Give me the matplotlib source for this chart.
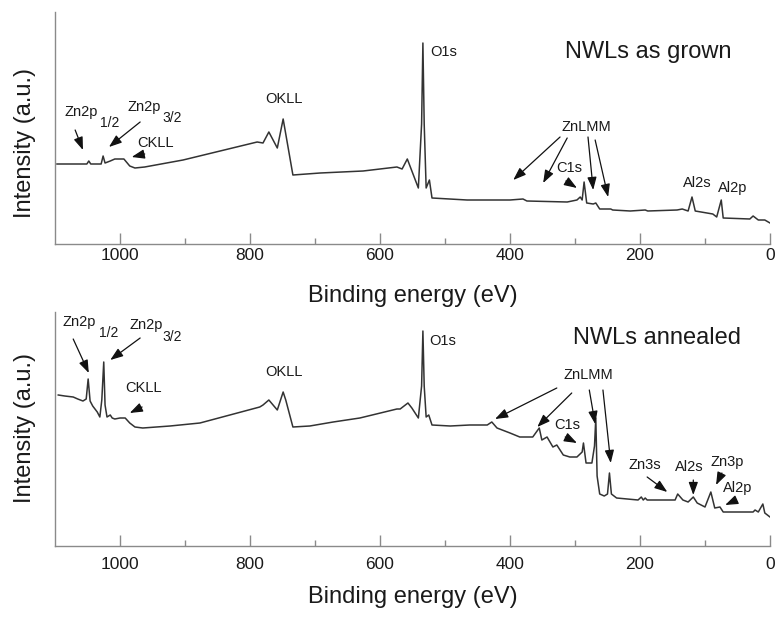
"""XPS survey spectra of the NWLs, as grown (top) and annealed (bottom)."""

import matplotlib

matplotlib.use("Agg")
import matplotlib.pyplot as plt
from matplotlib.ticker import FixedLocator

# binding energy (eV) / intensity (a.u.)
GROWN_EV = [1097, 1051, 1048, 1045, 1029, 1026, 1023, 1015, 1008, 994, 985, 977,
            962, 903, 846, 789, 780, 771, 758, 749, 734, 692, 626, 574, 566, 558,
            541, 536, 534, 532, 529, 524, 520, 466, 400, 380, 374, 312, 297, 292,
            289, 286, 282, 272, 268, 262, 245, 242, 215, 192, 188, 143, 135, 126,
            120, 115, 88, 82, 75, 72, 31, 26, 18, 8, 0]
GROWN_I = [80, 80, 83, 80, 80, 88, 81, 83, 85, 85, 78, 76,
           77, 84, 93, 102, 101, 112, 96, 125, 69, 71, 73, 77, 75, 85,
           56, 120, 201, 120, 56, 64, 46, 44, 44, 45, 43, 42, 44, 47,
           44, 62, 41, 40, 41, 35, 35, 34, 33, 34, 33, 34, 35, 33,
           47, 33, 30, 27, 44, 26, 25, 28, 24, 24, 21]

ANNEALED_EV = [1095, 1085, 1072, 1065, 1057, 1052, 1049, 1046, 1042, 1035, 1031,
               1028, 1025, 1023, 1020, 1015, 1012, 1008, 1000, 992, 985, 977, 965,
               923, 877, 831, 785, 780, 771, 758, 749, 745, 734, 708, 672, 631,
               574, 569, 557, 551, 541, 536, 534, 532, 529, 525, 520, 492, 462,
               435, 428, 420, 408, 400, 385, 365, 355, 351, 343, 334, 328, 318,
               308, 297, 289, 287, 283, 274, 270, 268, 266, 262, 255, 250, 247,
               244, 236, 203, 198, 195, 192, 189, 146, 142, 134, 126, 118, 112,
               100, 91, 85, 77, 72, 26, 23, 18, 11, 8, 0]
ANNEALED_I = [151, 150, 149, 147, 145, 147, 167, 145, 140, 134, 129,
              146, 184, 141, 129, 131, 128, 127, 128, 128, 123, 119, 118,
              120, 123, 131, 139, 141, 146, 136, 154, 146, 119, 120, 124, 128,
              137, 137, 143, 138, 128, 160, 215, 160, 129, 131, 121, 120, 121,
              121, 124, 118, 115, 113, 109, 109, 118, 106, 109, 99, 101, 91,
              89, 89, 94, 103, 83, 83, 100, 128, 70, 52, 50, 52, 73,
              52, 48, 46, 49, 46, 48, 46, 46, 52, 46, 44, 49, 43,
              39, 54, 38, 39, 34, 34, 36, 34, 42, 33, 29]

# peak labels: (text, energy, intensity, fontsize)
GROWN_LABELS = [("Zn2p", 1086, 132, 10.5), ("1/2", 1031, 121, 10),
                ("Zn2p", 989, 137, 10.5), ("3/2", 935, 126, 10),
                ("CKLL", 974, 101, 10.5), ("OKLL", 777, 145, 10.5),
                ("O1s", 522, 192, 10.5), ("ZnLMM", 320, 117, 10.5),
                ("C1s", 329, 76, 10.5), ("Al2s", 134, 61, 10.5),
                ("Al2p", 80, 56, 10.5)]
GROWN_ARROWS = [((1069, 114), (1057, 94)), ((969, 122), (1017, 97)),
                ((962, 90), (982, 87)), ((323, 107), (395, 64)),
                ((312, 106), (349, 61)), ((280, 107), (272, 54)),
                ((269, 104), (249, 47)), ((314, 63), (297, 56))]

ANNEALED_LABELS = [("Zn2p", 1088, 224, 10.5), ("1/2", 1032, 213, 10),
                   ("Zn2p", 985, 221, 10.5), ("3/2", 934, 209, 10),
                   ("CKLL", 992, 158, 10.5), ("OKLL", 777, 174, 10.5),
                   ("O1s", 525, 205, 10.5), ("ZnLMM", 318, 171, 10.5),
                   ("C1s", 332, 121, 10.5), ("Zn3s", 218, 81, 10.5),
                   ("Al2s", 146, 79, 10.5), ("Zn3p", 91, 84, 10.5),
                   ("Al2p", 72, 58, 10.5)]
ANNEALED_ARROWS = [((1072, 207), (1048, 173)), ((969, 208), (1015, 186)),
                   ((966, 139), (985, 133)), ((328, 158), (423, 127)),
                   ((305, 153), (358, 119)), ((278, 156), (269, 122)),
                   ((257, 156), (245, 83)), ((315, 109), (297, 103)),
                   ((189, 69), (158, 54)), ((118, 66), (118, 51)),
                   ((74, 73), (83, 61)), ((52, 46), (69, 41))]

INK = "#1a1a1a"
plt.rcParams.update({"font.family": ["Liberation Sans", "DejaVu Sans"]})


def panel(ax, ev, inten, ymax, title, title_y, labels, arrows, tickpad):
    ax.plot(ev, inten, color="#333333", lw=1.1)
    ax.set_xlim(1100, 0)
    ax.set_ylim(0, ymax)
    for s in ("top", "right"):
        ax.spines[s].set_visible(False)
    for s in ("left", "bottom"):
        ax.spines[s].set_color("#8a8a8a")
        ax.spines[s].set_linewidth(1.0)
    ax.set_yticks([])
    ax.xaxis.set_major_locator(FixedLocator([1000, 800, 600, 400, 200, 0]))
    ax.xaxis.set_minor_locator(FixedLocator([900, 700, 500, 300, 100]))
    ax.tick_params(axis="x", which="major", direction="in", length=8,
                   width=1.0, color="#8a8a8a", labelsize=12.5,
                   labelcolor=INK, pad=tickpad)
    ax.tick_params(axis="x", which="minor", direction="in", length=4,
                   width=1.0, color="#8a8a8a")
    ax.text(315 if "grown" in title else 303, title_y, title, fontsize=17,
            color=INK, ha="left", va="center")
    for txt, x, y, fs in labels:
        ax.text(x, y, txt, fontsize=fs, color=INK, ha="left", va="center")
    for tail, tip in arrows:
        ax.annotate("", xy=tip, xytext=tail,
                    arrowprops=dict(arrowstyle="-|>,head_length=0.55,head_width=0.2",
                                    color="#111111", lw=0.9,
                                    mutation_scale=14, shrinkA=0, shrinkB=0))


fig = plt.figure(figsize=(7.78, 6.17), dpi=100)
ax1 = fig.add_axes([55 / 778, 1 - 244 / 617, 715 / 778, 232 / 617])
ax2 = fig.add_axes([55 / 778, 1 - 546 / 617, 715 / 778, 234 / 617])

panel(ax1, GROWN_EV, GROWN_I, 232, "NWLs as grown", 192,
      GROWN_LABELS, GROWN_ARROWS, 3)
panel(ax2, ANNEALED_EV, ANNEALED_I, 234, "NWLs annealed", 208,
      ANNEALED_LABELS, ANNEALED_ARROWS, 8)

for ax, ylab_y, xlab_y in ((ax1, 0.437, -0.224), (ax2, 0.504, -0.218)):
    ax.text(-0.042, ylab_y, "Intensity (a.u.)", transform=ax.transAxes,
            rotation=90, fontsize=17, color=INK, ha="center", va="center")
    ax.text(0.5, xlab_y, "Binding energy (eV)", transform=ax.transAxes,
            fontsize=17, color=INK, ha="center", va="center")

fig.savefig("out.png", dpi=100)
